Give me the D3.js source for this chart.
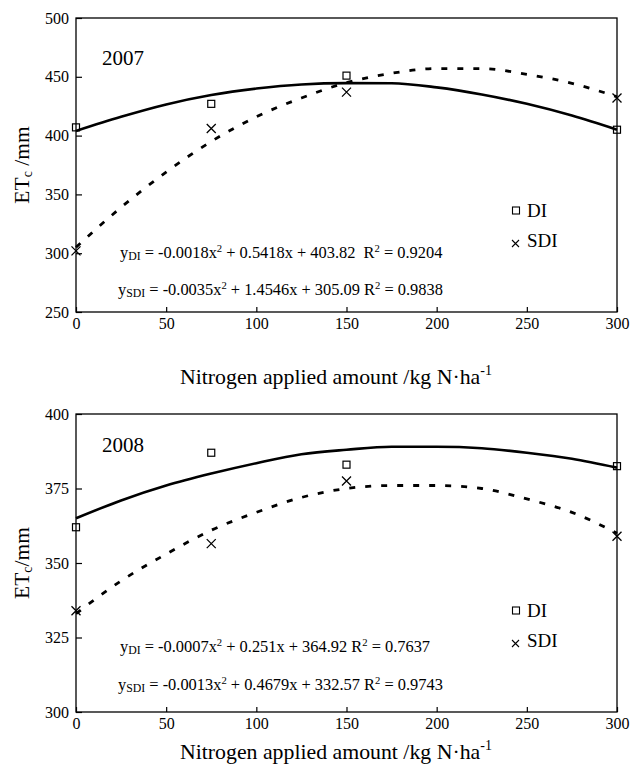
<!DOCTYPE html>
<html>
<head>
<meta charset="utf-8">
<script src="https://cdn.jsdelivr.net/npm/d3@7"></script>
<style>
  body { margin: 0; background: #fff; }
  text { white-space: pre; }
</style>
</head>
<body>
<script>
// nitrogen levels (kg N/ha) where ETc was measured
var nLevels = [0, 75, 150, 300];

// measured ETc (mm)
var di2007 = [407, 427, 451, 405];
var sdi2007 = [302, 406, 437, 432];
var di2008 = [362, 387, 383, 382.5];
var sdi2008 = [334, 356.5, 377.5, 359];

// fitted curves
var fitN = [0, 25, 50, 75, 100, 125, 150, 175, 200, 225, 250, 275, 300];
var diFit2007 = [404, 416, 426.5, 434.5, 440, 443.5, 444.6, 444.5, 441, 435, 427, 417, 405];
var sdiFit2007 = [305, 339, 369, 395, 416, 432, 445, 453, 457, 457, 452, 444.5, 433];
var diFit2008 = [365, 371, 376, 380, 383.5, 386.5, 388, 389, 389, 388.5, 387, 385, 382];
var sdiFit2008 = [333, 344, 353, 361, 367, 372, 375, 376, 376, 375, 371.5, 367, 360];

// axis ticks
var xTicks = [0, 50, 100, 150, 200, 250, 300];
var yTicks2007 = [250, 300, 350, 400, 450, 500];
var yTicks2008 = [300, 325, 350, 375, 400];

// regression labels
var eqDI2007 = [["y"], ["DI", "sub"], [" = -0.0018x"], ["2", "sup"], [" + 0.5418x + 403.82  R"], ["2", "sup"], [" = 0.9204"]];
var eqSDI2007 = [["y"], ["SDI", "sub"], [" = -0.0035x"], ["2", "sup"], [" + 1.4546x + 305.09 R"], ["2", "sup"], [" = 0.9838"]];
var eqDI2008 = [["y"], ["DI", "sub"], [" = -0.0007x"], ["2", "sup"], [" + 0.251x + 364.92 R"], ["2", "sup"], [" = 0.7637"]];
var eqSDI2008 = [["y"], ["SDI", "sub"], [" = -0.0013x"], ["2", "sup"], [" + 0.4679x + 332.57 R"], ["2", "sup"], [" = 0.9743"]];

var width = 630;
var height = 772;
var font = "'Liberation Serif', 'DejaVu Serif', serif";

var svg = d3.select("body")
            .append("svg")
            .attr("width", width)
            .attr("height", height)
            .attr("font-family", font);

function richText(g, parts, x, y, size) {
  var t = g.append("text")
           .attr("x", x)
           .attr("y", y)
           .attr("font-family", font)
           .attr("font-size", size);
  var shift = 0;
  parts.forEach(function(p){
    var dy = 0, fs = size;
    if (p[1] == "sub") { dy = 2; fs = size * 0.72; }
    if (p[1] == "sup") { dy = -6; fs = size * 0.65; }
    t.append("tspan")
     .attr("dy", dy - shift)
     .attr("font-size", fs)
     .text(p[0]);
    shift = dy;
  });
  return t;
}

function drawPanel(cfg) {
  var left = 76, right = 617;
  var top = cfg.top, bottom = cfg.bottom;

  var xScale = d3.scaleLinear()
                 .domain([0, 300])
                 .range([left, right]);

  var yScale = d3.scaleLinear()
                 .domain(cfg.yDomain)
                 .range([bottom, top]);

  var g = svg.append("g");

  // frame
  g.append("rect")
   .attr("x", left)
   .attr("y", top)
   .attr("width", right - left)
   .attr("height", bottom - top)
   .attr("fill", "none")
   .attr("stroke", "#000")
   .attr("stroke-width", 1.3);

  var xAxis = d3.axisBottom(xScale)
                .tickValues(xTicks)
                .tickSizeInner(-5)
                .tickSizeOuter(0)
                .tickPadding(6);

  var yAxis = d3.axisLeft(yScale)
                .tickValues(cfg.yTicks)
                .tickSizeInner(-6)
                .tickSizeOuter(0)
                .tickPadding(7);

  var gx = g.append("g")
            .attr("transform", "translate(0," + bottom + ")")
            .call(xAxis);
  var gy = g.append("g")
            .attr("transform", "translate(" + left + ",0)")
            .call(yAxis);

  [gx, gy].forEach(function(a){
    a.select(".domain").remove();
    a.attr("font-family", font).attr("font-size", 16);
    a.selectAll("line").attr("stroke", "#000").attr("stroke-width", 1.2);
    a.selectAll("text").attr("fill", "#000");
  });

  // fitted curves
  var line = d3.line()
               .x(function(d){ return xScale(d[0]); })
               .y(function(d){ return yScale(d[1]); })
               .curve(d3.curveMonotoneX);

  g.append("path")
   .attr("d", line(d3.zip(fitN, cfg.diFit)))
   .attr("fill", "none")
   .attr("stroke", "#000")
   .attr("stroke-width", 2.6);

  g.append("path")
   .attr("d", line(d3.zip(fitN, cfg.sdiFit)))
   .attr("fill", "none")
   .attr("stroke", "#000")
   .attr("stroke-width", 2.8)
   .attr("stroke-dasharray", "6,10");

  // measured points
  g.selectAll(".sq")
   .data(d3.zip(nLevels, cfg.di))
   .enter()
   .append("rect")
   .attr("class", "sq")
   .attr("x", function(d){ return xScale(d[0]) - 3.5; })
   .attr("y", function(d){ return yScale(d[1]) - 3.5; })
   .attr("width", 7)
   .attr("height", 7)
   .attr("fill", "none")
   .attr("stroke", "#000")
   .attr("stroke-width", 1.2);

  g.selectAll(".cross")
   .data(d3.zip(nLevels, cfg.sdi))
   .enter()
   .append("path")
   .attr("class", "cross")
   .attr("d", function(d){
     var cx = xScale(d[0]), cy = yScale(d[1]), r = 4.5;
     return "M" + (cx - r) + "," + (cy - r) + "L" + (cx + r) + "," + (cy + r) +
            "M" + (cx - r) + "," + (cy + r) + "L" + (cx + r) + "," + (cy - r);
   })
   .attr("stroke", "#000")
   .attr("stroke-width", 1.3);

  // year
  g.append("text")
   .attr("x", 102)
   .attr("y", top + cfg.yearDy)
   .attr("font-family", font)
   .attr("font-size", 21)
   .text(cfg.year);

  // legend
  g.append("rect")
   .attr("x", 512.5).attr("y", top + cfg.legDy - 10)
   .attr("width", 7).attr("height", 7)
   .attr("fill", "none").attr("stroke", "#000").attr("stroke-width", 1.1);
  g.append("text")
   .attr("x", 527).attr("y", top + cfg.legDy)
   .attr("font-family", font)
   .attr("font-size", 19)
   .text("DI");
  g.append("path")
   .attr("d", "M512," + (top + cfg.legDy + 23) + "l7,7M512," + (top + cfg.legDy + 30) + "l7,-7")
   .attr("stroke", "#000").attr("stroke-width", 1.1);
  g.append("text")
   .attr("x", 527).attr("y", top + cfg.legDy + 30)
   .attr("font-family", font)
   .attr("font-size", 19)
   .text("SDI");

  // equations
  richText(g, cfg.eq1, 120, cfg.eqY1, 16.4);
  richText(g, cfg.eq2, 118, cfg.eqY2, 16.4);

  // axis titles
  var yl = g.append("text")
            .attr("transform", "translate(29," + ((top + bottom) / 2) + ") rotate(-90)")
            .attr("text-anchor", "middle")
            .attr("font-family", font)
            .attr("font-size", 21.5);
  yl.append("tspan").text("ET");
  yl.append("tspan").attr("font-size", 14).attr("dy", 3).text("c");
  yl.append("tspan").attr("dy", -3).text(cfg.yUnit);

  var xl = g.append("text")
            .attr("x", 180)
            .attr("y", cfg.xTitleY)
            .attr("font-family", font)
            .attr("font-size", 21.8);
  xl.append("tspan").text("Nitrogen applied amount /kg N\u00b7ha");
  xl.append("tspan").attr("font-size", 14).attr("dy", -9).text("-1");
}

drawPanel({
  top: 18, bottom: 312, yDomain: [250, 500], yTicks: yTicks2007,
  di: di2007, sdi: sdi2007, diFit: diFit2007, sdiFit: sdiFit2007,
  year: "2007", yearDy: 47, legDy: 199,
  eq1: eqDI2007, eq2: eqSDI2007, eqY1: 258, eqY2: 295,
  yUnit: " /mm", xTitleY: 384
});

drawPanel({
  top: 414, bottom: 712, yDomain: [300, 400], yTicks: yTicks2008,
  di: di2008, sdi: sdi2008, diFit: diFit2008, sdiFit: sdiFit2008,
  year: "2008", yearDy: 38, legDy: 203,
  eq1: eqDI2008, eq2: eqSDI2008, eqY1: 652, eqY2: 690,
  yUnit: "/mm", xTitleY: 759
});
</script>
</body>
</html>
